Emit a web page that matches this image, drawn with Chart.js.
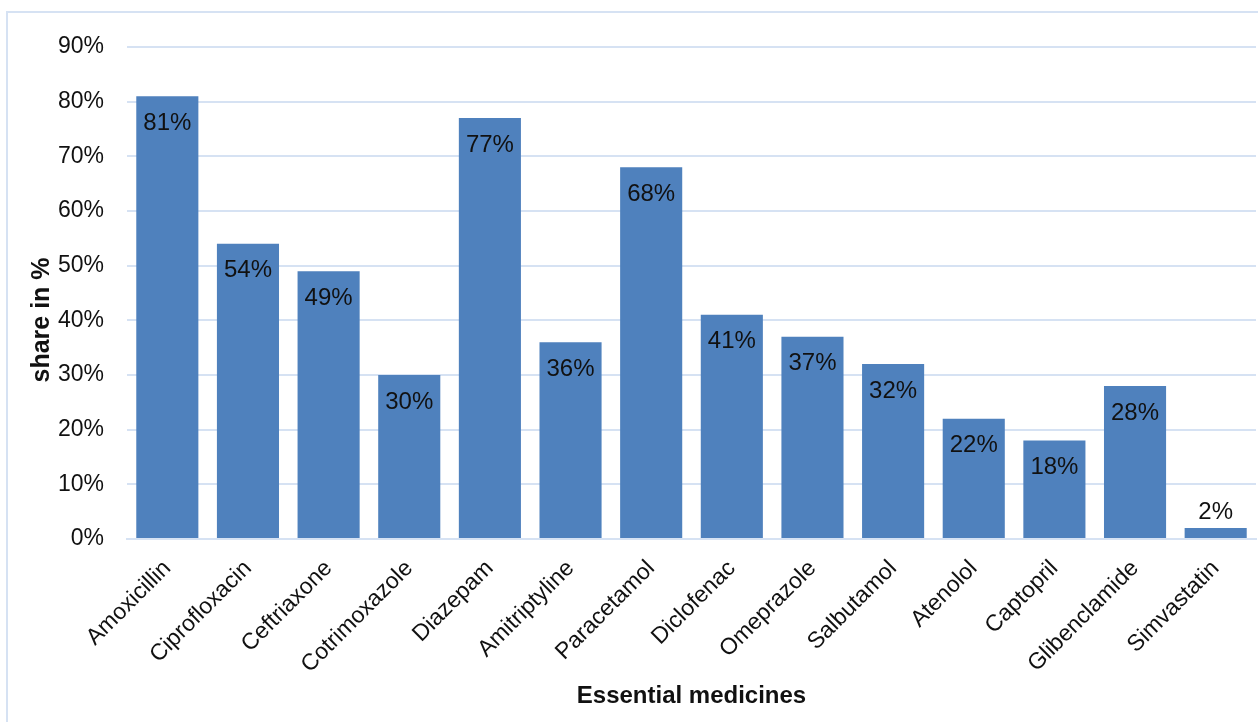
<!DOCTYPE html>
<html>
<head>
<meta charset="utf-8">
<script src="https://cdn.jsdelivr.net/npm/chart.js@4.4.1/dist/chart.umd.min.js"></script>
<style>
  html, body { margin: 0; padding: 0; background: #fff; }
  #wrap { position: relative; width: 1258px; height: 722px; overflow: hidden; }
  #frame { position: absolute; left: 6px; top: 11px; width: 1262px; height: 730px;
           border: 2px solid #d6e2f3; box-sizing: border-box; }
  canvas { position: absolute; left: 0; top: 0; }
</style>
</head>
<body>
<div id="wrap">
  <div id="frame"></div>
  <canvas id="chartMedicines" width="1258" height="722"></canvas>
</div>
<script>
const medicines = ['Amoxicillin', 'Ciprofloxacin', 'Ceftriaxone', 'Cotrimoxazole', 'Diazepam',
  'Amitriptyline', 'Paracetamol', 'Diclofenac', 'Omeprazole', 'Salbutamol', 'Atenolol',
  'Captopril', 'Glibenclamide', 'Simvastatin'];
const shares = [81, 54, 49, 30, 77, 36, 68, 41, 37, 32, 22, 18, 28, 2];
const yTicks = [0, 10, 20, 30, 40, 50, 60, 70, 80, 90];

const FONT = '"Liberation Sans", Arial, sans-serif';

// value labels inside the bar near its top (above it when the bar is too short),
// plus the y axis title, which sits a bit lower than the chart area middle
const barLabels = {
  id: 'barLabels',
  afterDatasetsDraw(chart) {
    const ctx = chart.ctx;
    const meta = chart.getDatasetMeta(0);
    ctx.save();
    ctx.font = '24px ' + FONT;
    ctx.fillStyle = '#111';
    ctx.textAlign = 'center';
    ctx.textBaseline = 'middle';
    meta.data.forEach((bar, i) => {
      const h = bar.base - bar.y;
      const y = h > 50 ? bar.y + 27 : bar.y - 16;
      ctx.fillText(shares[i] + '%', bar.x, y);
    });

    ctx.font = 'bold 25px ' + FONT;
    ctx.translate(42, 320);
    ctx.rotate(-Math.PI / 2);
    ctx.fillText('share in %', 0, 0);
    ctx.restore();
  }
};

const canvas = document.getElementById('chartMedicines');
new Chart(canvas, {
  type: 'bar',
  data: {
    labels: medicines,
    datasets: [{
      data: shares,
      backgroundColor: '#4f81bd',
      barPercentage: 0.77,
      categoryPercentage: 1
    }]
  },
  options: {
    responsive: false,
    animation: false,
    layout: { padding: { top: 47, right: 2, left: 0, bottom: 0 } },
    plugins: {
      legend: { display: false },
      tooltip: { enabled: false }
    },
    scales: {
      x: {
        grid: { display: false },
        border: { color: '#d6e2f3', width: 2 },
        ticks: {
          color: '#111',
          font: { family: FONT, size: 23 },
          minRotation: 45,
          maxRotation: 45,
          padding: 8
        },
        title: {
          display: true,
          text: 'Essential medicines',
          color: '#111',
          font: { family: FONT, size: 24, weight: 'bold' },
          padding: { top: 0, bottom: 11 }
        },
        afterFit(scale) { scale.height = 183; }
      },
      y: {
        min: 0,
        max: 90,
        afterBuildTicks(scale) { scale.ticks = yTicks.map(v => ({ value: v })); },
        grid: { color: '#d6e2f3', lineWidth: 2, drawTicks: false },
        border: { display: false },
        ticks: {
          color: '#111',
          font: { family: FONT, size: 23 },
          padding: 23,
          callback: v => v + '%'
        },
        afterFit(scale) { scale.width = 127; }
      }
    }
  },
  plugins: [barLabels]
});
</script>
</body>
</html>
